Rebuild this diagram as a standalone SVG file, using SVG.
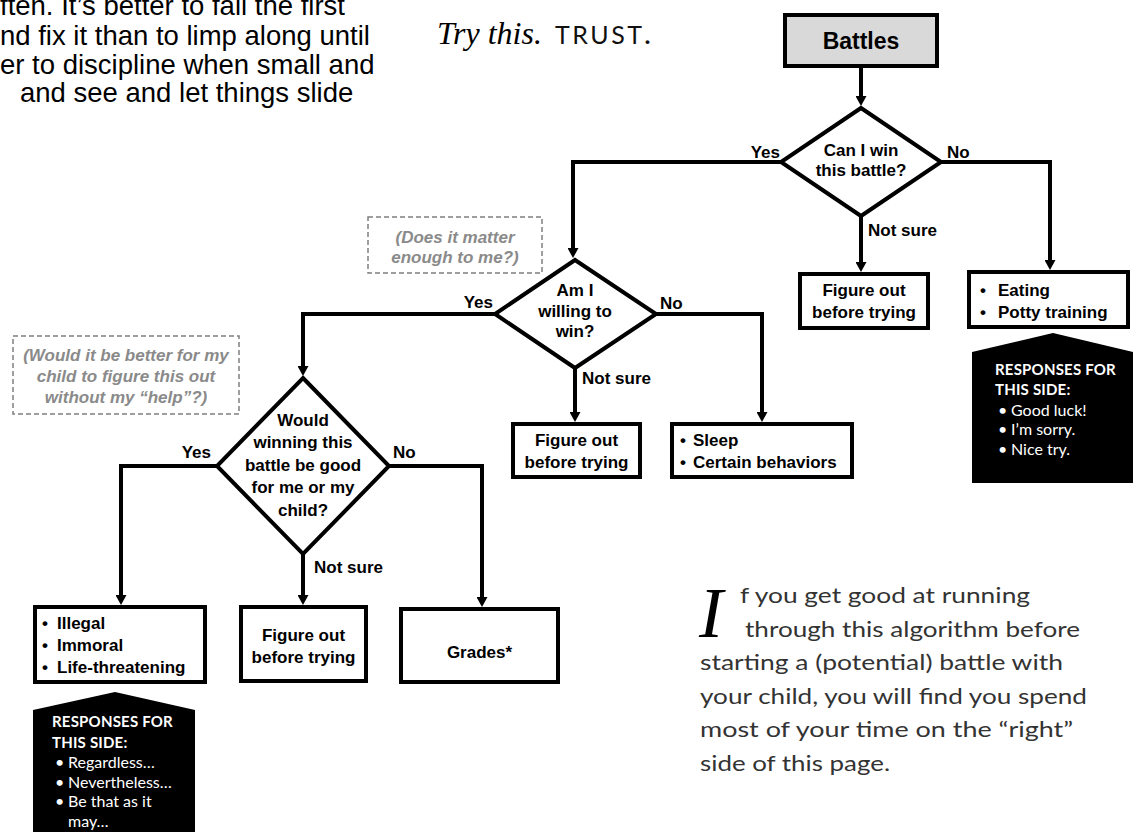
<svg xmlns="http://www.w3.org/2000/svg" width="1136" height="836" viewBox="0 0 1136 836">
<defs>
<marker id="ah" viewBox="0 0 10 11" markerWidth="10" markerHeight="11" refX="0" refY="5.5" orient="auto" markerUnits="userSpaceOnUse">
<path d="M0,0 L10,5.5 L0,11 z" fill="#000"/>
</marker>
</defs>
<style>
.box{fill:#fff;stroke:#000;stroke-width:4}
.t{font-family:"Liberation Sans",Arial,sans-serif;font-weight:bold;font-size:17px;fill:#000}
.c{text-anchor:middle}
.e{text-anchor:end}
.edge{fill:none;stroke:#000;stroke-width:4;marker-end:url(#ah)}
.note{fill:none;stroke:#7f7f7f;stroke-width:1.5;stroke-dasharray:5 3}
.nt{font-family:"Liberation Sans",Arial,sans-serif;font-weight:bold;font-style:italic;font-size:17px;fill:#8a8a8a;text-anchor:middle}
.call{fill:#000}
.ct{font-family:Lato,"Liberation Sans",sans-serif;font-size:16px;fill:#fff}
.ctb{font-weight:bold;font-size:15px;letter-spacing:0.2px}
.para{font-family:Lato,"Liberation Sans",sans-serif;font-size:22px;fill:#333}
.intro{font-family:"Liberation Sans",Arial,sans-serif;font-size:27.5px;fill:#000}
</style>

<g id="intro-text">
<text class="intro" x="0" y="15">ften. It’s better to fail the first</text>
<text class="intro" x="0" y="45">nd fix it than to limp along until</text>
<text class="intro" x="0" y="74">er to discipline when small and</text>
<text class="intro" x="20" y="102"> and see and let things slide</text>
</g>

<g id="title">
<text x="437" y="44" style="font-family:'Liberation Serif',serif;font-style:italic;font-size:32px;fill:#000">Try this.</text>
<text x="555" y="44" style="font-family:Lato,'DejaVu Sans',sans-serif;font-weight:400;font-size:25px;letter-spacing:2.5px;fill:#111">TRUST<tspan font-weight="bold">.</tspan></text>
</g>

<g id="connectors">
<path class="edge" d="M861,68 V96"/>
<path class="edge" d="M781,162 H573 V248"/>
<path class="edge" d="M941,162 H1050 V260"/>
<path class="edge" d="M861,216 V262"/>
<path class="edge" d="M495,314 H303 V366"/>
<path class="edge" d="M656,314 H762 V412"/>
<path class="edge" d="M575,368 V412"/>
<path class="edge" d="M217,466 H121 V595"/>
<path class="edge" d="M389,466 H482 V597"/>
<path class="edge" d="M303,554 V595"/>
</g>

<g id="labels">
<text class="t e" x="780" y="158">Yes</text>
<text class="t" x="947" y="158">No</text>
<text class="t" x="868" y="236">Not sure</text>
<text class="t e" x="493" y="308">Yes</text>
<text class="t" x="660" y="309">No</text>
<text class="t" x="582" y="384">Not sure</text>
<text class="t e" x="211" y="458">Yes</text>
<text class="t" x="393" y="458">No</text>
<text class="t" x="314" y="573">Not sure</text>
</g>

<g id="battles">
<rect x="785" y="15" width="152" height="51" fill="#d9d9d9" stroke="#000" stroke-width="4"/>
<text class="t c" x="861" y="49" style="font-size:23px">Battles</text>
</g>

<g id="can-i-win">
<polygon class="box" points="861,108 941,162 861,216 781,162"/>
<text class="t c" x="861" y="156">Can I win</text>
<text class="t c" x="861" y="176">this battle?</text>
</g>

<g id="figure-out-1">
<rect class="box" x="800" y="274" width="128" height="54"/>
<text class="t c" x="864" y="296">Figure out</text>
<text class="t c" x="864" y="318">before trying</text>
</g>

<g id="eating">
<rect class="box" x="969" y="272" width="159" height="55"/>
<text class="t" x="980" y="296">•</text><text class="t" x="998" y="296">Eating</text>
<text class="t" x="980" y="318">•</text><text class="t" x="998" y="318">Potty training</text>
</g>

<g id="callout-right">
<polygon class="call" points="972,352 1053,333 1133,352 1133,483 972,483"/>
<text class="ct ctb" x="995" y="375">RESPONSES FOR</text>
<text class="ct ctb" x="995" y="395">THIS SIDE:</text>
<text class="ct" x="998" y="416">•</text><text class="ct" x="1011" y="416">Good luck!</text>
<text class="ct" x="998" y="435">•</text><text class="ct" x="1011" y="435">I’m sorry.</text>
<text class="ct" x="998" y="455">•</text><text class="ct" x="1011" y="455">Nice try.</text>
</g>

<g id="note-matter">
<rect class="note" x="368" y="217" width="174" height="56"/>
<text class="nt" x="455" y="243">(Does it matter</text>
<text class="nt" x="455" y="263">enough to me?)</text>
</g>

<g id="willing">
<polygon class="box" points="575,260 656,314 575,368 495,314"/>
<text class="t c" x="575" y="296">Am I</text>
<text class="t c" x="575" y="317">willing to</text>
<text class="t c" x="575" y="337">win?</text>
</g>

<g id="figure-out-2">
<rect class="box" x="513" y="424" width="127" height="53"/>
<text class="t c" x="576.5" y="446">Figure out</text>
<text class="t c" x="576.5" y="468">before trying</text>
</g>

<g id="sleep">
<rect class="box" x="672" y="424" width="180" height="53"/>
<text class="t" x="680" y="446">•</text><text class="t" x="693" y="446">Sleep</text>
<text class="t" x="680" y="468">•</text><text class="t" x="693" y="468">Certain behaviors</text>
</g>

<g id="note-better">
<rect class="note" x="13" y="336" width="226" height="78"/>
<text class="nt" x="126" y="361">(Would it be better  for my</text>
<text class="nt" x="126" y="382">child to figure this out</text>
<text class="nt" x="126" y="403">without my “help”?)</text>
</g>

<g id="would-winning">
<polygon class="box" points="303,378 389,466 303,554 217,466"/>
<text class="t c" x="303" y="426">Would</text>
<text class="t c" x="303" y="448">winning this</text>
<text class="t c" x="303" y="471">battle be good</text>
<text class="t c" x="303" y="493">for me or my</text>
<text class="t c" x="303" y="516">child?</text>
</g>

<g id="illegal">
<rect class="box" x="35" y="607" width="170" height="75"/>
<text class="t" x="42" y="629">•</text><text class="t" x="57" y="629">Illegal</text>
<text class="t" x="42" y="651">•</text><text class="t" x="57" y="651">Immoral</text>
<text class="t" x="42" y="673">•</text><text class="t" x="57" y="673">Life-threatening</text>
</g>

<g id="figure-out-3">
<rect class="box" x="241" y="607" width="125" height="74"/>
<text class="t c" x="303.5" y="641">Figure out</text>
<text class="t c" x="303.5" y="663">before trying</text>
</g>

<g id="grades">
<rect class="box" x="401" y="609" width="157" height="73"/>
<text class="t c" x="479.5" y="658">Grades*</text>
</g>

<g id="callout-left">
<polygon class="call" points="33,710 115,692 195,710 195,832 33,832"/>
<text class="ct ctb" x="52" y="727">RESPONSES FOR</text>
<text class="ct ctb" x="52" y="748">THIS SIDE:</text>
<text class="ct" x="55" y="768">•</text><text class="ct" x="68" y="768">Regardless…</text>
<text class="ct" x="55" y="788">•</text><text class="ct" x="68" y="788">Nevertheless…</text>
<text class="ct" x="55" y="807">•</text><text class="ct" x="68" y="807">Be that as it</text>
<text class="ct" x="68" y="827">may…</text>
</g>

<g id="paragraph">
<text x="699" y="637" style="font-family:'Liberation Serif',serif;font-style:italic;font-size:72px;fill:#000">I</text>
<text class="para" x="740" y="603" textLength="290" lengthAdjust="spacingAndGlyphs">f you get good at running</text>
<text class="para" x="745" y="636.5" textLength="335" lengthAdjust="spacingAndGlyphs">through this algorithm before</text>
<text class="para" x="700" y="670" textLength="363" lengthAdjust="spacingAndGlyphs">starting a (potential) battle with</text>
<text class="para" x="700" y="703.5" textLength="387" lengthAdjust="spacingAndGlyphs">your child, you will find you spend</text>
<text class="para" x="700" y="737" textLength="373" lengthAdjust="spacingAndGlyphs">most of your  time on the “right”</text>
<text class="para" x="700" y="770.5" textLength="190" lengthAdjust="spacingAndGlyphs">side of this page.</text>
</g>
</svg>
